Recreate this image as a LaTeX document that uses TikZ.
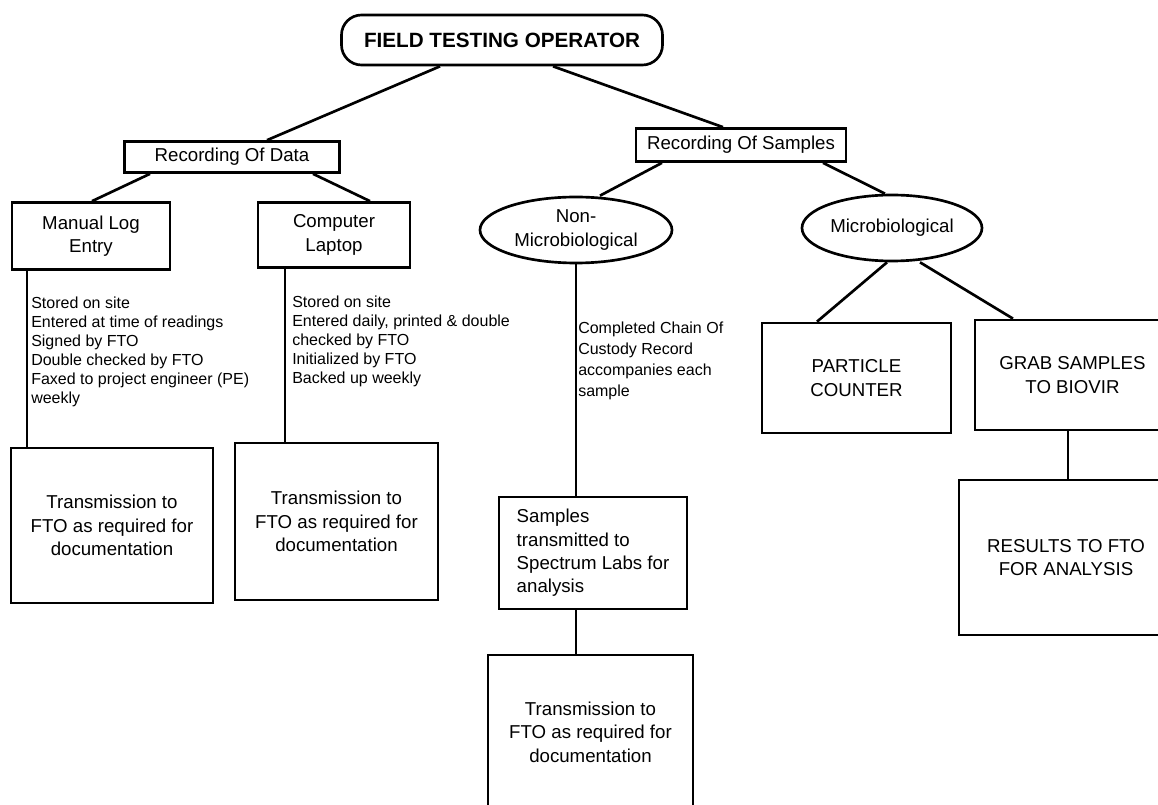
\documentclass[tikz,border=0pt]{standalone}
\usepackage{fontspec}
\setmainfont{Liberation Sans}
\usepackage{tikz}
\usepackage{xcolor}
\usetikzlibrary{shapes.geometric}
\newcommand{\labfont}{\fontsize{14}{17.5}\selectfont}
\newcommand{\listfont}{\fontsize{12}{14.25}\selectfont}

\begin{document}
\begin{tikzpicture}[x=0.75pt,y=0.75pt,yscale=-1,xscale=1,
  box/.style={draw, line width=2pt, inner sep=0pt, align=center, font=\labfont},
  oval/.style={draw, ellipse, line width=2pt, inner sep=0pt, align=center, font=\labfont},
  note/.style={anchor=north west, inner sep=0pt, align=left, font=\listfont},
  link/.style={line width=2pt}]
\useasboundingbox (0,0) rectangle (1158,805);

%Shape: Rounded Rect
\node [box, rounded corners=15pt, minimum width=240.75pt, minimum height=37.5pt, font=\fontsize{15.5}{18}\selectfont\bfseries] (fto) at (502,40) {FIELD TESTING OPERATOR};
%Shape: Rectangle
\node [box, minimum width=161.25pt, minimum height=23.25pt] (recdata) at (232,157) {Recording Of Data};
\node [box, minimum width=157.5pt, minimum height=24.75pt] (recsamples) at (741,145) {Recording Of Samples};
\node [box, minimum width=118.5pt, minimum height=50.25pt] (manual) at (91,236) {Manual Log\\Entry};
\node [box, minimum width=114pt, minimum height=48.75pt] (laptop) at (334,235) {Computer\\Laptop};
%Shape: Ellipse
\node [oval, minimum width=144pt, minimum height=49.5pt] (nonmicro) at (576,230) {Non-\\Microbiological};
\node [oval, minimum width=135pt, minimum height=49.5pt] (micro) at (892,228) {Microbiological};
%Shape: Rectangle
\node [box, minimum width=141.75pt, minimum height=82.5pt] (particle) at (856.5,378) {PARTICLE\\COUNTER};
\node [box, minimum width=146.25pt, minimum height=82.5pt] (grab) at (1072.5,375) {GRAB SAMPLES\\TO BIOVIR};
\node [box, minimum width=160.5pt, minimum height=116.25pt] (results) at (1066,557.5) {RESULTS TO FTO\\FOR ANALYSIS};
\node [box, minimum width=151.5pt, minimum height=116.25pt] (trans1) at (112,525.5) {Transmission to\\FTO as required for\\documentation};
\node [box, minimum width=152.25pt, minimum height=117.75pt] (trans2) at (336.5,521.5) {Transmission to\\FTO as required for\\documentation};
\node [box, align=left, minimum width=141pt, minimum height=84pt] (samples) at (593,553) {Samples\\transmitted to\\Spectrum Labs for\\analysis};
\node [box, minimum width=153.75pt, minimum height=115.5pt] (trans3) at (590.5,732) {Transmission to\\FTO as required for\\documentation};

%Straight Lines
\draw [link] (fto.south -| 440,0) -- (recdata.north -| 267,0);
\draw [link] (fto.south -| 553,0) -- (recsamples.north -| 723,0);
\draw [link] (recdata.south -| 150,0) -- (manual.north -| 92,0);
\draw [link] (recdata.south -| 313,0) -- (laptop.north -| 370,0);
\draw [link] (recsamples.south -| 662,0) -- (nonmicro.north -| 600,0);
\draw [link] (recsamples.south -| 823,0) -- (micro.north -| 885,0);
\draw [link] (micro.south -| 887,0) -- (particle.north -| 817,0);
\draw [link] (micro.south -| 920,0) -- (grab.north -| 1013,0);
\draw [link] (manual.south -| 27,0) -- (trans1.north -| 27,0);
\draw [link] (laptop.south -| 285,0) -- (trans2.north -| 285,0);
\draw [link] (nonmicro.south) -- (nonmicro.south |- samples.north);
\draw [link] (samples.south -| 576,0) -- (trans3.north -| 576,0);
\draw [link] (grab.south -| 1068,0) -- (results.north -| 1068,0);

% Text Node
\node [note] (manualnote) at (31,297) {Stored on site\\Entered at time of readings\\Signed by FTO\\Double checked by FTO\\Faxed to project engineer (PE)\\weekly};
% Text Node
\node [note] (laptopnote) at (292,296) {Stored on site\\Entered daily, printed \& double\\checked by FTO\\Initialized by FTO\\Backed up weekly};
% Text Node
\node [note, font=\fontsize{12}{15.75}\selectfont] (chainnote) at (578,322) {Completed Chain Of\\Custody Record\\accompanies each\\sample};

\end{tikzpicture}
\end{document}
